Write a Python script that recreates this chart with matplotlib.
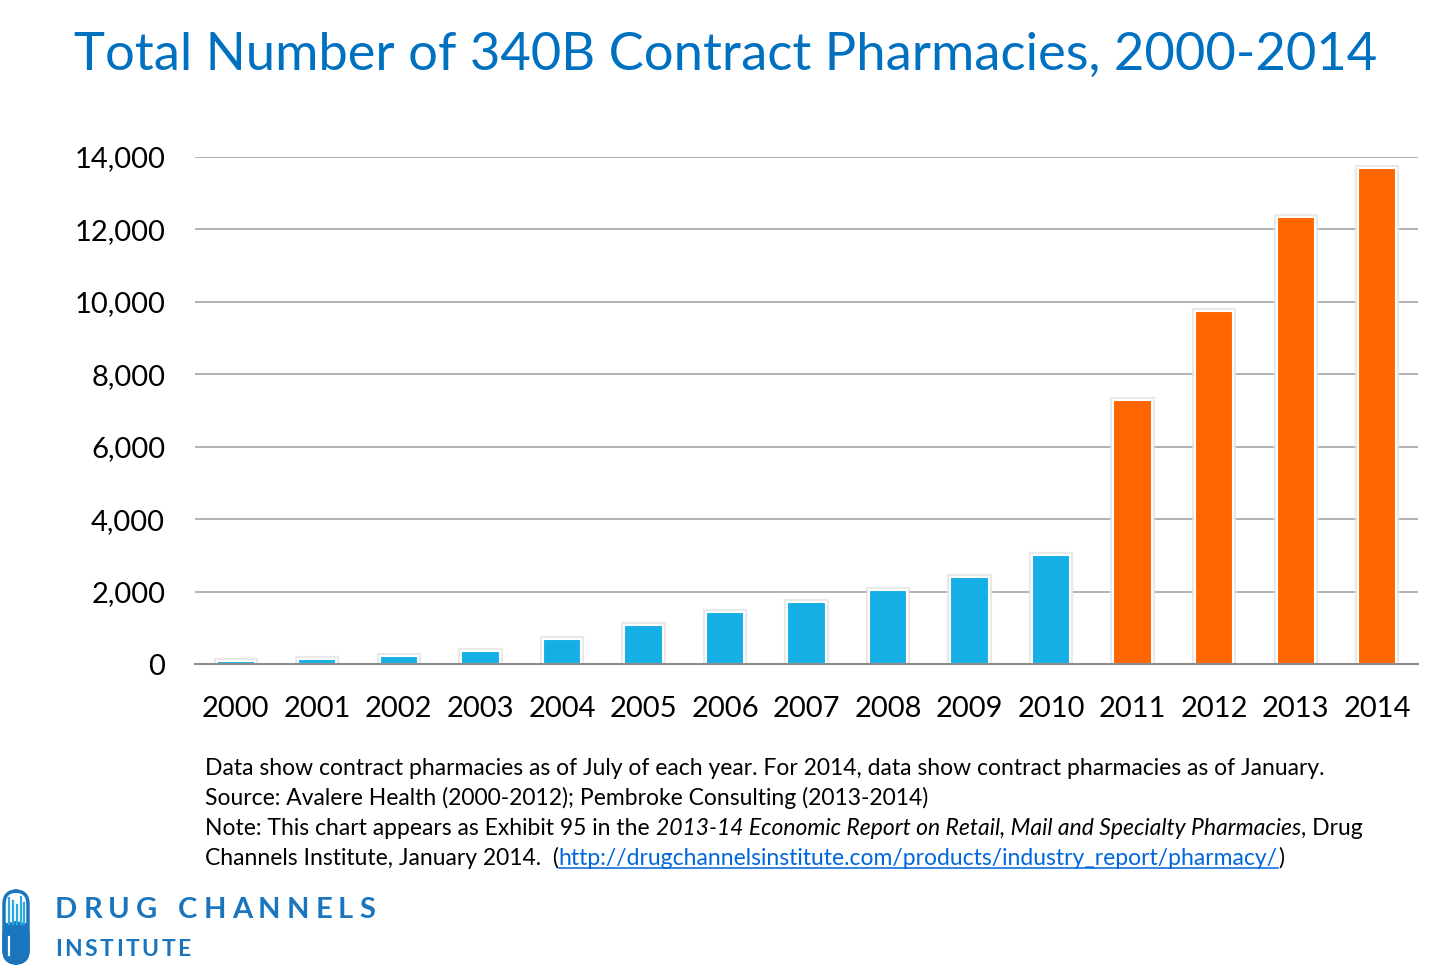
import matplotlib
matplotlib.use("Agg")
import matplotlib.pyplot as plt
import matplotlib.patheffects as pe
from matplotlib.patches import FancyBboxPatch, Rectangle
from matplotlib.ticker import FuncFormatter

# data
years = ['2000', '2001', '2002', '2003', '2004', '2005', '2006', '2007',
         '2008', '2009', '2010', '2011', '2012', '2013', '2014']
pharmacies = [90, 150, 230, 370, 700, 1090, 1450, 1730, 2060, 2420, 3010,
              7290, 9760, 12340, 13700]
bar_colors = ['#15AFE6'] * 11 + ['#FF6600'] * 4
y_ticks = [0, 2000, 4000, 6000, 8000, 10000, 12000, 14000]

title = 'Total Number of 340B Contract Pharmacies, 2000-2014'
note_lines = [
    [('Data show contract pharmacies as of July of each year. For 2014, data show contract pharmacies as of January.', 'normal', 'black', False)],
    [('Source: Avalere Health (2000-2012); Pembroke Consulting (2013-2014)', 'normal', 'black', False)],
    [('Note: This chart appears as Exhibit 95 in the ', 'normal', 'black', False),
     ('2013-14 Economic Report on Retail, Mail and Specialty Pharmacies', 'italic', 'black', False),
     (', Drug', 'normal', 'black', False)],
    [('Channels Institute, January 2014.  (', 'normal', 'black', False),
     ('http://drugchannelsinstitute.com/products/industry_report/pharmacy/', 'normal', '#0066DD', True),
     (')', 'normal', 'black', False)],
]

FONT = 'Lato'
plt.rcParams['font.family'] = FONT

W, H = 1444, 967
fig = plt.figure(figsize=(W / 100, H / 100), dpi=100)
fig.patch.set_facecolor('white')

ax = fig.add_axes([195 / W, 1 - 664.3 / H, (1418 - 195) / W, (664.3 - 157) / H])
x = range(len(years))
bars = ax.bar(x, pharmacies, width=0.47, color=bar_colors, edgecolor='white',
              linewidth=1.5, zorder=3)
for b in bars:
    b.set_path_effects([pe.Stroke(linewidth=4.5, foreground='#e4e4e4', alpha=0.8),
                        pe.Normal()])

ax.set_xlim(-0.5, len(years) - 0.5)
ax.set_ylim(0, 14000)
ax.set_yticks(y_ticks)
ax.yaxis.set_major_formatter(FuncFormatter(lambda v, p: '{:,.0f}'.format(v)))
ax.set_xticks(list(x))
ax.set_xticklabels(years)
ax.tick_params(axis='both', length=0, labelsize=21)
ax.tick_params(axis='x', pad=23)
ax.tick_params(axis='y', pad=21.5)
ax.grid(axis='y', color='#A6A6A6', linewidth=1.2, zorder=0)
for s in ['top', 'right', 'left']:
    ax.spines[s].set_visible(False)
ax.spines['bottom'].set_color('#8C8C8C')
ax.spines['bottom'].set_linewidth(1.5)
ax.spines['bottom'].set_zorder(4)

fig.text(726 / W, 1 - 55 / H, title, ha='center', va='center', fontsize=37.8,
         color='#0070C0')

# footnote, drawn run by run
renderer = fig.canvas.get_renderer()


def put_runs(px, py, runs, size):
    cur = px
    for txt, style, col, link in runs:
        t = fig.text(cur / W, 1 - py / H, txt, fontsize=size, style=style,
                     color=col, va='baseline', ha='left')
        ext = t.get_window_extent(renderer)
        if link:
            fig.add_artist(plt.Line2D([cur / W, (cur + ext.width) / W],
                                      [1 - (py + 3) / H, 1 - (py + 3) / H],
                                      color=col, linewidth=1.1))
        cur += ext.width
    return cur


for i, line in enumerate(note_lines):
    put_runs(205, 775 + 30 * i, line, 16.5)

# logo
logo_blue = '#1B75BC'
pill = FancyBboxPatch((4 / W, 1 - 963 / H), 24 / W, 72 / H,
                      boxstyle='round,pad=0,rounding_size=0.009',
                      transform=fig.transFigure, facecolor='white',
                      edgecolor=logo_blue, linewidth=2.5, mutation_aspect=W / H)
fig.add_artist(pill)
fig.add_artist(FancyBboxPatch((4 / W, 1 - 963 / H), 24 / W, 40 / H,
                              boxstyle='round,pad=0,rounding_size=0.009',
                              transform=fig.transFigure, facecolor=logo_blue,
                              edgecolor=logo_blue, linewidth=2.5,
                              mutation_aspect=W / H))
fig.add_artist(Rectangle((4 / W, 1 - 935 / H), 24 / W, 12 / H,
                         transform=fig.transFigure, facecolor=logo_blue,
                         edgecolor='none'))
for lx, top in zip([9, 13, 17, 21, 24], [898, 901, 905, 897, 903]):
    fig.add_artist(plt.Line2D([lx / W, lx / W], [1 - top / H, 1 - 924 / H],
                              color='#29ABE2', linewidth=1.6))
fig.add_artist(plt.Line2D([9 / W, 9 / W], [1 - 937 / H, 1 - 955 / H],
                          color='white', linewidth=1.6))


def spaced(px, py, txt, size, gap):
    cur = px
    for ch in txt:
        t = fig.text(cur / W, 1 - py / H, ch, fontsize=size, weight='bold',
                     color=logo_blue, va='baseline', ha='left')
        cur += t.get_window_extent(renderer).width + gap
        if ch == ' ':
            cur += 2


spaced(55, 918, 'DRUG CHANNELS', 21, 6.0)
spaced(55, 956, 'INSTITUTE', 16.5, 2.5)

fig.savefig('out.png', dpi=100)
